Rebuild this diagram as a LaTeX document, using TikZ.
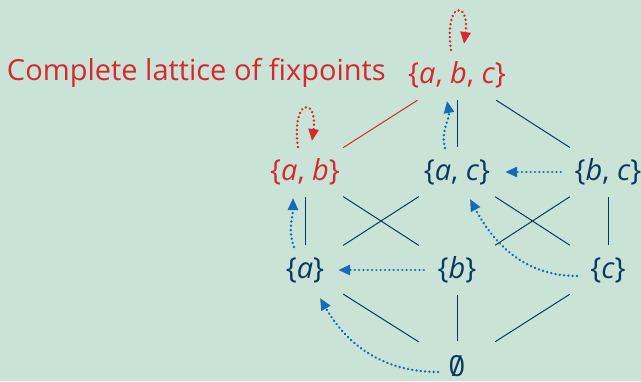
\documentclass[tikz,border=0pt]{standalone}
\usepackage{fontspec}
\setmainfont{Open Sans}
\usetikzlibrary{arrows.meta}
\definecolor{bg}{RGB}{201,228,214}
\definecolor{myred}{RGB}{214,40,46}
\definecolor{navy}{RGB}{14,55,95}
\definecolor{myblue}{RGB}{22,108,180}
\newcommand{\mv}[1]{\textit{#1}}
\newcommand{\myempty}{\ooalign{0\cr\hidewidth/\hidewidth}}
\tikzset{
  setnode/.style={font=\fontsize{29}{30}\selectfont, text=navy, inner sep=0pt, minimum height=50pt, minimum width=76pt},
  rednode/.style={setnode, text=myred},
  edge/.style={draw=navy, line width=1pt},
  rededge/.style={draw=myred, line width=1pt},
  maparrow/.style={draw=myblue, line width=2.7pt, line cap=round, dash pattern=on 0.01pt off 4.3pt, -{Triangle[length=12pt,width=10pt,line cap=butt]}},
  redmap/.style={maparrow, draw=myred},
}
\begin{document}
\begin{tikzpicture}[x=1pt,y=-1pt]
\fill[bg] (0,0) rectangle (641,381);
\useasboundingbox (0,0) rectangle (641,381);
\node[rednode] (abc) at (457,75) {\{\mv{a}, \mv{b}, \mv{c}\}};
\node[rednode] (ab) at (305,172) {\{\mv{a}, \mv{b}\}};
\node[setnode] (ac) at (457,172) {\{\mv{a}, \mv{c}\}};
\node[setnode] (bc) at (608,172) {\{\mv{b}, \mv{c}\}};
\node[setnode] (a) at (305,270) {\{\mv{a}\}};
\node[setnode] (b) at (457,270) {\{\mv{b}\}};
\node[setnode] (c) at (608,270) {\{\mv{c}\}};
\node[setnode] (e) at (457,366) {\myempty};
\node[font=\fontsize{29}{30}\selectfont, text=myred, anchor=east, inner sep=0pt] (lbl) at (386,73) {Complete lattice of fixpoints};
% edges
\draw[rededge] (abc) -- (ab);
\draw[edge] (abc) -- (ac);
\draw[edge] (abc) -- (bc);
\draw[edge] (ab) -- (a);
\draw[edge] (ab) -- (b);
\draw[edge] (ac) -- (a);
\draw[edge] (ac) -- (c);
\draw[edge] (bc) -- (b);
\draw[edge] (bc) -- (c);
\draw[edge] (a) -- (e);
\draw[edge] (b) -- (e);
\draw[edge] (c) -- (e);
% maps
\draw[maparrow] ([xshift=-9pt]bc.west) -- ([xshift=10pt]ac.east);
\draw[maparrow] ([xshift=5pt]b.west) -- ([xshift=-5pt]a.east);
\coordinate (cs) at (577,276);
\coordinate (act) at (470,199);
\draw[maparrow] (cs) to[out=180,in=-62] (act);
\coordinate (as) at (294,247);
\coordinate (abt) at (293,198);
\draw[maparrow] (as) to[out=110,in=-90] (abt);
\coordinate (acs) at (445,148);
\coordinate (abct) at (447,101);
\draw[maparrow] (acs) to[out=105,in=-80] (abct);
\coordinate (es) at (438,372);
\coordinate (at) at (320,298);
\draw[maparrow] (es) to[out=180,in=-60] (at);
% self loops
\coordinate (l1s) at (451,50);
\coordinate (l1e) at (464,44);
\draw[redmap] (l1s) .. controls (444,0) and (470,0) .. (l1e);
\coordinate (l2s) at (298,147);
\coordinate (l2e) at (312,141);
\draw[redmap] (l2s) .. controls (291,97) and (318,97) .. (l2e);
\end{tikzpicture}
\end{document}
